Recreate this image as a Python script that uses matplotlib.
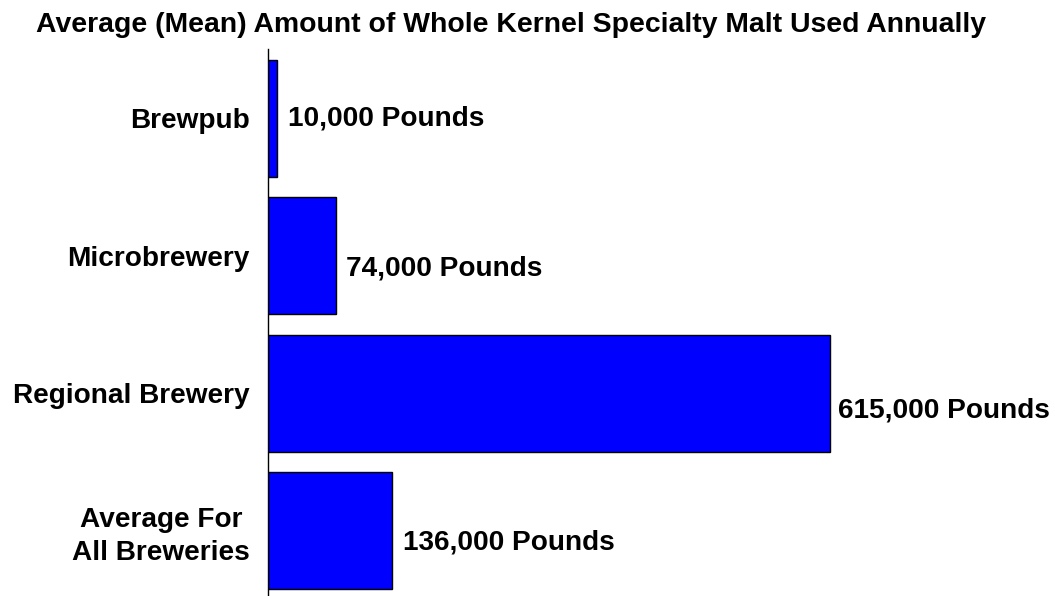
import matplotlib
matplotlib.use("Agg")
import matplotlib.pyplot as plt

plt.rcParams['font.family'] = ['Liberation Sans', 'DejaVu Sans']
plt.rcParams['font.weight'] = 'bold'

# data
categories = ["Brewpub", "Microbrewery", "Regional Brewery", "Average For \nAll Breweries"]
pounds = [10000, 74000, 615000, 136000]
value_labels = ["10,000 Pounds", "74,000 Pounds", "615,000 Pounds", "136,000 Pounds"]

# label nudges in pixels (the original placement is a bit uneven)
label_dx = [11, 10, 8, 11]
label_dy = [0, -13, -17, -12]

W, H = 1055, 596
fig = plt.figure(figsize=(W / 100, H / 100), dpi=100)

ax_left, ax_top = 268, 49
ax_right = 268 + 700000 * (562 / 615000)
ax = fig.add_axes([ax_left / W, 0, (ax_right - ax_left) / W, (H - ax_top) / H])

ypos = list(range(len(categories)))
bars = ax.barh(ypos, pounds, height=0.852, color='#0000FF',
               edgecolor='black', linewidth=1.0)

ax.set_xlim(0, 700000)
ax.set_ylim(3.477, -0.506)

ax.set_yticks(ypos)
ax.set_yticklabels(categories, fontsize=20.2, fontweight='bold', linespacing=1.35)
ax.tick_params(axis='y', length=0, pad=13)
ax.set_xticks([])

for s in ['top', 'right', 'bottom']:
    ax.spines[s].set_visible(False)
ax.spines['left'].set_linewidth(1.0)
ax.spines['left'].set_color('black')

for bar, txt, dx, dy in zip(bars, value_labels, label_dx, label_dy):
    ax.annotate(txt, (bar.get_width(), bar.get_y() + bar.get_height() / 2),
                xytext=(dx, dy), textcoords='offset pixels',
                ha='left', va='center', fontsize=20.2, fontweight='bold')

fig.text(511 / W, 1 - 25 / H,
         "Average (Mean) Amount of Whole Kernel Specialty Malt Used Annually",
         ha='center', va='center', fontsize=20.4, fontweight='bold')

fig.savefig("out.png", dpi=100)
